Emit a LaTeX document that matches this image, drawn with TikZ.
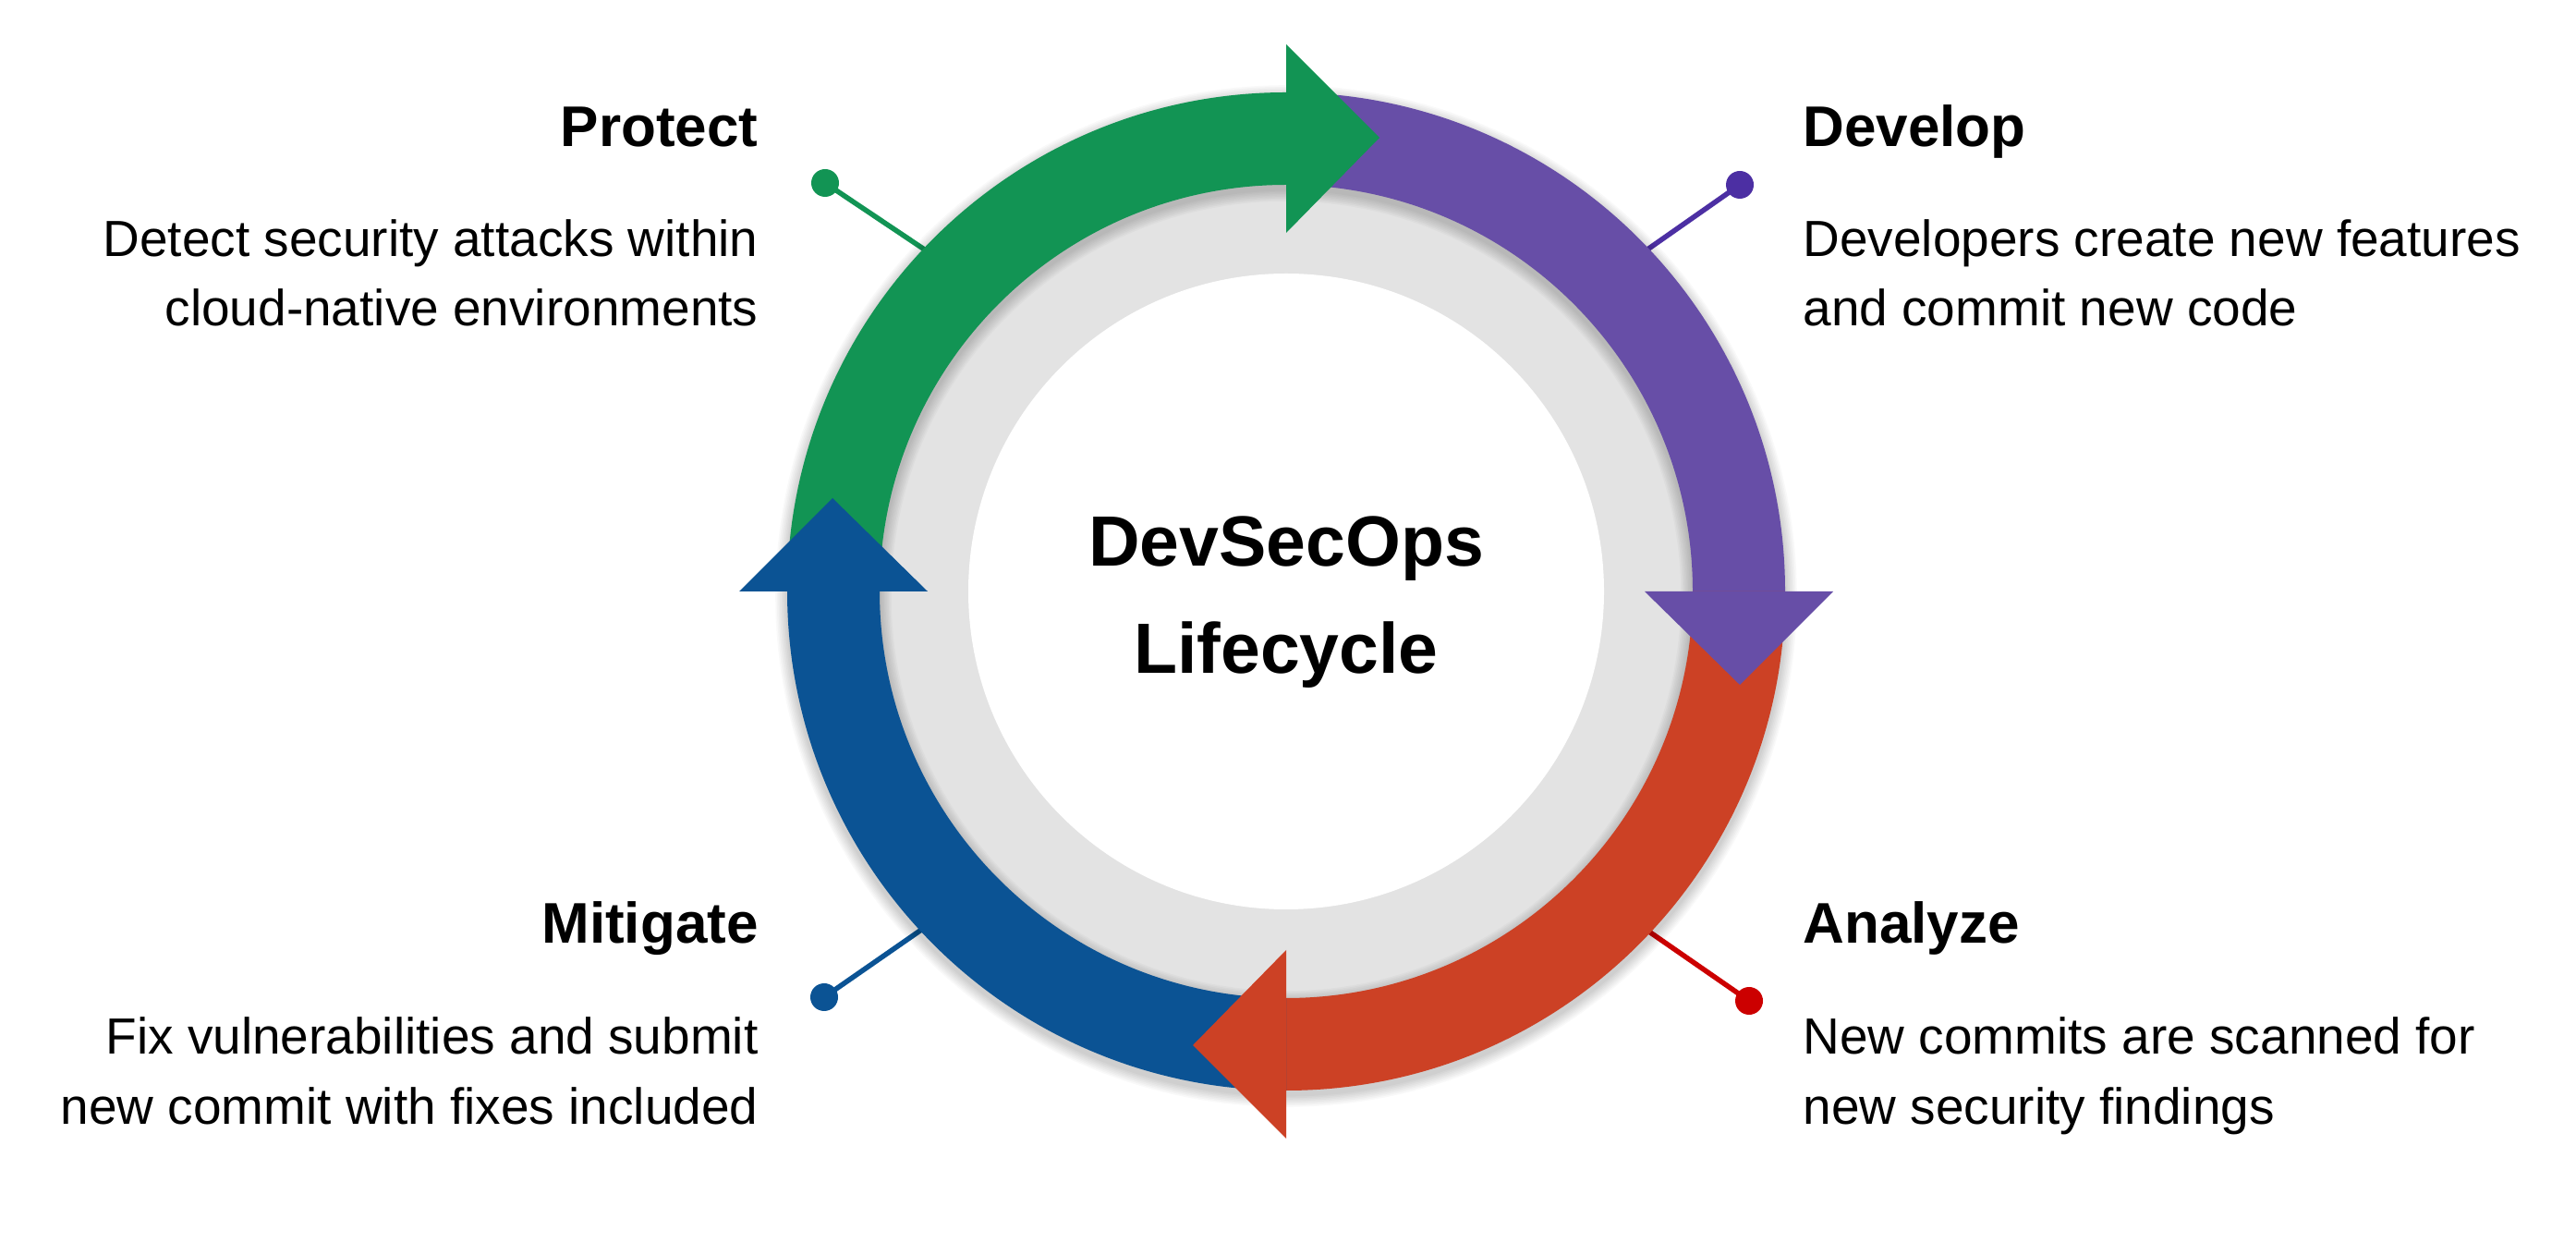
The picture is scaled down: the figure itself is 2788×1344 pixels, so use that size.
\documentclass[tikz,border=0pt]{standalone}
\usepackage{fontspec}
\setmainfont{Liberation Sans}
\usetikzlibrary{calc}
\definecolor{cgreen}{HTML}{129454}
\definecolor{cpurple}{HTML}{674EA7}
\definecolor{cred}{HTML}{CC4125}
\definecolor{cblue}{HTML}{0B5394}
\definecolor{cring}{HTML}{E3E3E3}
\definecolor{dpurple}{HTML}{4C2FA3}
\definecolor{dred}{HTML}{CC0000}
\newcommand{\bandseg}[3]{%
  \fill[#1] ($(C)+(#2:540)$) arc[start angle=#2, end angle=#3, radius=540]
    -- ($(C)+(#3:440)$) arc[start angle=#3, end angle=#2, radius=440] -- cycle;}
\newcommand{\headtri}[2]{%
  \fill[#1] ($(C)+(#2:388)$) -- ($(C)+(#2:592)$) -- ($(C)+(#2:491)+(#2-90:101)$) -- cycle;}
\begin{document}
\begin{tikzpicture}[x=0.5pt,y=0.5pt,
  title/.style={font=\fontsize{31}{37}\selectfont\bfseries, inner sep=0pt},
  body/.style={font=\fontsize{27.5}{33}\selectfont, inner sep=0pt},
  centertext/.style={font=\fontsize{38.5}{46}\selectfont\bfseries, inner sep=0pt, anchor=base},
  leader/.style={line width=2.75pt},
  dot/.style={circle, inner sep=0pt, minimum size=15pt},
]
\fill[white] (0,0) rectangle (2788,1344);
\useasboundingbox (0,0) rectangle (2788,1344);
\coordinate (C) at (1392,704);

% gray ring
\fill[cring] (C) circle[radius=490];

% leaders and dots
\node[dot, fill=cgreen] (pdot) at (893,1146) {};
\coordinate (pend) at (1020,1061);
\draw[leader, cgreen] (pdot.center) -- (pend);
\node[dot, fill=dpurple] (ddot) at (1883,1144) {};
\coordinate (dend) at (1763,1060);
\draw[leader, dpurple] (ddot.center) -- (dend);
\node[dot, fill=cblue] (mdot) at (892,265) {};
\coordinate (mend) at (1016,351);
\draw[leader, cblue] (mdot.center) -- (mend);
\node[dot, fill=dred] (adot) at (1893,261) {};
\coordinate (aend) at (1763,351);
\draw[leader, dred] (adot.center) -- (aend);

% soft shadow of the band
\foreach \i in {1,...,8}{
  \fill[black, opacity=0.025, even odd rule] ($(C)+(0,-5)$) circle[radius=540+1.6*\i] circle[radius=440-1.6*\i];
}

% bands
\bandseg{cgreen}{180}{90}
\bandseg{cpurple}{90}{0}
\bandseg{cred}{0}{-90}
\bandseg{cblue}{-90}{-180}
% heads
\headtri{cgreen}{90}
\headtri{cpurple}{0}
\headtri{cred}{-90}
\headtri{cblue}{180}

% inner white disk
\fill[white] (C) circle[radius=344];

% center text
\node[centertext] (c1) at (1392,731) {DevSecOps};
\node[centertext] (c2) at (1392,615) {Lifecycle};

% Protect
\node[title, anchor=base east] (pt) at (821,1185) {Protect};
\node[body, anchor=base east] (pb1) at (821,1066) {Detect security attacks within};
\node[body, anchor=base east] (pb2) at (821,991) {cloud-native environments};
% Develop
\node[title, anchor=base west] (dt) at (1951,1185) {Develop};
\node[body, anchor=base west] (db1) at (1951,1066) {Developers create new features};
\node[body, anchor=base west] (db2) at (1951,991) {and commit new code};
% Mitigate
\node[title, anchor=base east] (mt) at (821,323) {Mitigate};
\node[body, anchor=base east] (mb1) at (821,204) {Fix vulnerabilities and submit};
\node[body, anchor=base east] (mb2) at (821,128) {new commit with fixes included};
% Analyze
\node[title, anchor=base west] (at) at (1951,323) {Analyze};
\node[body, anchor=base west] (ab1) at (1951,204) {New commits are scanned for};
\node[body, anchor=base west] (ab2) at (1951,128) {new security findings};
\end{tikzpicture}
\end{document}
